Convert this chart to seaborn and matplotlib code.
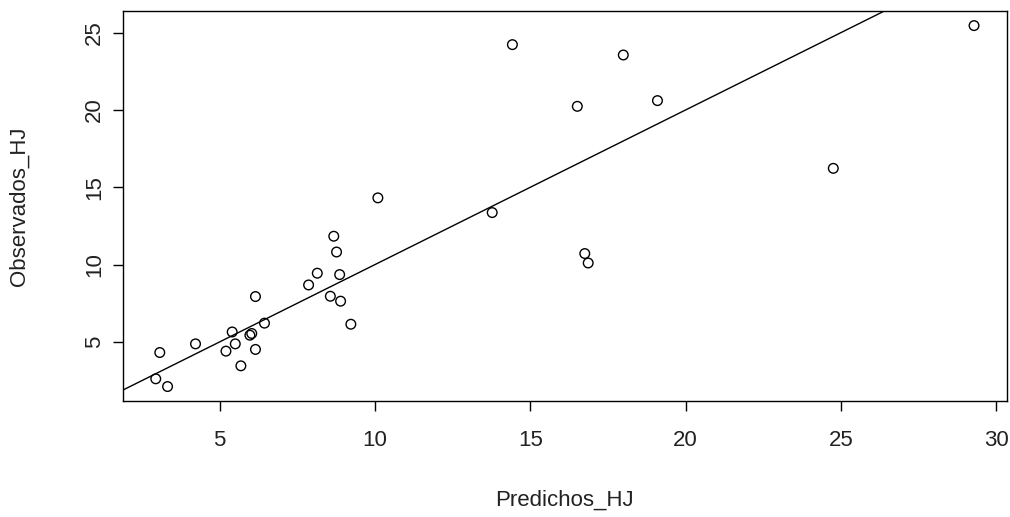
import numpy as np
import pandas as pd
import seaborn as sns
import matplotlib.pyplot as plt

# == values == #
predichos = [3.07, 2.94, 3.32, 4.22, 5.20, 5.40, 5.50, 5.68, 5.97, 6.03,
             6.15, 6.15, 6.44, 7.86, 8.14, 8.56, 8.67, 8.76, 8.86, 8.89,
             9.22, 10.09, 13.77, 14.42, 16.51, 16.75, 16.86, 17.99, 19.09,
             24.75, 29.28]
observados = [4.31, 2.61, 2.11, 4.87, 4.40, 5.64, 4.87, 3.45, 5.43, 5.54,
              4.51, 7.93, 6.21, 8.68, 9.44, 7.95, 11.83, 10.81, 9.35, 7.63,
              6.14, 14.31, 13.36, 24.22, 20.23, 10.71, 10.10, 23.55, 20.60,
              16.22, 25.45]

df = pd.DataFrame({'Predichos_HJ': predichos, 'Observados_HJ': observados})

sns.set_style('ticks')
plt.rcParams['font.family'] = ['Liberation Sans', 'DejaVu Sans']

fig = plt.figure(figsize=(10.1, 5.17), dpi=100)
ax = fig.add_axes([0.1218, 0.2244, 0.875, 0.754])

sns.scatterplot(data=df, x='Predichos_HJ', y='Observados_HJ', ax=ax,
                marker='o', s=48, facecolor='none', edgecolor='black',
                linewidth=1.0)

# identity line, like abline(0, 1)
ax.axline((0, 0), slope=1, color='black', linewidth=1.0)

# R style axis range: data range + 4%
xr = max(predichos) - min(predichos)
yr = max(observados) - min(observados)
ax.set_xlim(min(predichos) - 0.04 * xr, max(predichos) + 0.04 * xr)
ax.set_ylim(min(observados) - 0.04 * yr, max(observados) + 0.04 * yr)

ax.set_xticks([5, 10, 15, 20, 25, 30])
ax.set_yticks([5, 10, 15, 20, 25])
ax.tick_params(axis='both', length=7, width=1, color='black',
               labelsize=16, labelcolor='#222222')
ax.tick_params(axis='x', pad=14)
ax.tick_params(axis='y', pad=6)
for lab in ax.get_yticklabels():
    lab.set_rotation(90)
    lab.set_va('center')

for sp in ax.spines.values():
    sp.set_visible(True)
    sp.set_color('black')
    sp.set_linewidth(1.0)

ax.set_xlabel('Predichos_HJ', fontsize=16, color='#222222', labelpad=28)
ax.set_ylabel('Observados_HJ', fontsize=16, color='#222222', labelpad=39)

fig.savefig('out.png', dpi=100)
